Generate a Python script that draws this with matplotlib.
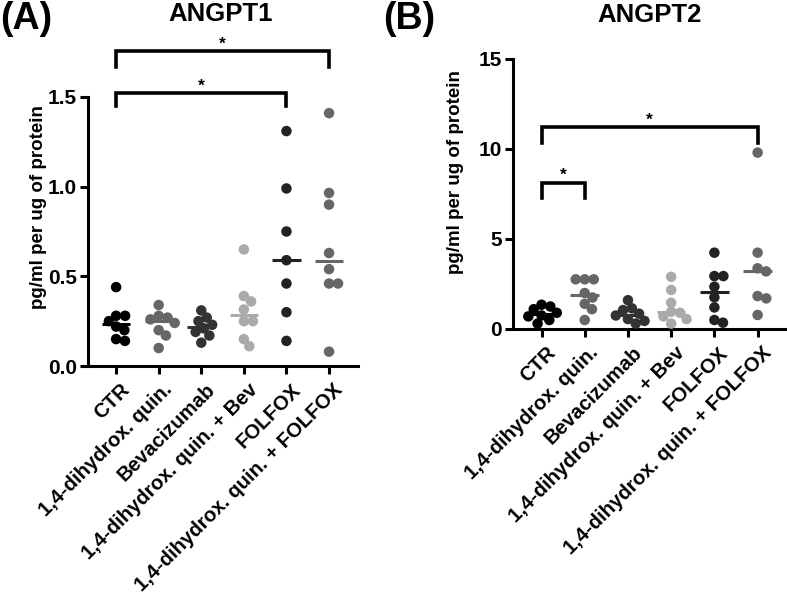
import numpy as np
import matplotlib
matplotlib.use("Agg")
import matplotlib.pyplot as plt
import matplotlib.transforms as mtrans

plt.rcParams['font.family'] = ['Liberation Sans', 'DejaVu Sans']
plt.rcParams['font.weight'] = 'bold'

groups = ['CTR', '1,4-dihydrox. quin.', 'Bevacizumab', '1,4-dihydrox. quin. + Bev',
          'FOLFOX', '1,4-dihydrox. quin. + FOLFOX']
colors = ['#000000', '#666666', '#333333', '#aaaaaa', '#222222', '#666666']

# ANGPT1 values (pg/ml per ug of protein)
angpt1_ctr = [0.44, 0.28, 0.28, 0.25, 0.22, 0.20, 0.15, 0.14]
angpt1_dhq = [0.34, 0.28, 0.27, 0.26, 0.24, 0.20, 0.17, 0.10]
angpt1_bev = [0.31, 0.27, 0.25, 0.23, 0.21, 0.19, 0.17, 0.13]
angpt1_dhq_bev = [0.65, 0.39, 0.36, 0.315, 0.25, 0.25, 0.15, 0.11]
angpt1_folfox = [1.31, 0.99, 0.75, 0.59, 0.46, 0.30, 0.14]
angpt1_dhq_folfox = [1.41, 0.965, 0.90, 0.63, 0.54, 0.46, 0.46, 0.08]

# ANGPT2 values
angpt2_ctr = [1.35, 1.25, 1.1, 0.9, 0.75, 0.7, 0.5, 0.3]
angpt2_dhq = [2.76, 2.76, 2.76, 2.0, 1.75, 1.4, 1.1, 0.5]
angpt2_bev = [1.6, 1.15, 1.05, 0.85, 0.75, 0.55, 0.45, 0.3]
angpt2_dhq_bev = [2.9, 2.17, 1.46, 0.96, 0.9, 0.7, 0.55, 0.3]
angpt2_folfox = [4.24, 2.94, 2.94, 2.35, 1.76, 1.2, 0.5, 0.35]
angpt2_dhq_folfox = [9.8, 4.24, 3.37, 3.2, 1.83, 1.7, 0.78]

angpt1 = [angpt1_ctr, angpt1_dhq, angpt1_bev, angpt1_dhq_bev, angpt1_folfox, angpt1_dhq_folfox]
angpt2 = [angpt2_ctr, angpt2_dhq, angpt2_bev, angpt2_dhq_bev, angpt2_folfox, angpt2_dhq_folfox]

# significance brackets: (group i, group j, bar height, leg bottom)
sig1 = [(0, 4, 1.52, 1.45), (0, 5, 1.755, 1.67)]
sig2 = [(0, 1, 8.1, 7.26), (0, 5, 11.2, 10.35)]

DIAM = 10.5   # marker diameter in px
SEP = 9.0     # min distance between point centres (GraphPad lets them overlap a bit)


def swarm_offsets(ax, x0, vals):
    # simple beeswarm in pixel space
    pts = ax.transData.transform([(x0, v) for v in vals])
    ys = pts[:, 1]
    px_per_unit = ax.transData.transform([(1, 0)])[0][0] - ax.transData.transform([(0, 0)])[0][0]
    placed = []
    offs = np.zeros(len(vals))
    for i in np.argsort(-ys):
        cands = [0.0]
        for xj, yj in placed:
            dy = ys[i] - yj
            if abs(dy) < SEP:
                dx = np.sqrt(SEP ** 2 - dy ** 2)
                cands += [xj + dx, xj - dx]
        cands.sort(key=abs)
        for c in cands:
            ok = all((c - xj) ** 2 + (ys[i] - yj) ** 2 >= SEP ** 2 - 1e-6 for xj, yj in placed)
            if ok:
                break
        placed.append((c, ys[i]))
        offs[i] = c
    return x0 + offs / px_per_unit


def draw_panel(ax, data, ylim, yticks, yticklabels, sig):
    ax.set_xlim(-0.66, 5.68)
    ax.set_ylim(*ylim)
    for i, vals in enumerate(data):
        xs = swarm_offsets(ax, i, vals)
        ax.scatter(xs, vals, s=(DIAM * 0.72) ** 2, color=colors[i], edgecolors='none',
                   zorder=3, clip_on=False)
        med = np.median(vals)
        ax.plot([i - 0.33, i + 0.33], [med, med], color=colors[i], lw=2.2, zorder=4,
                solid_capstyle='butt')
    for a, b, top, bot in sig:
        ax.plot([a, a, b, b], [bot, top, top, bot], color='black', lw=2.6,
                clip_on=False, solid_joinstyle='miter')
        ax.text((a + b) / 2, top, '*', ha='center', va='bottom', fontsize=12.5,
                fontweight='bold')
    ax.spines['top'].set_visible(False)
    ax.spines['right'].set_visible(False)
    ax.spines['left'].set_linewidth(2.2)
    ax.spines['bottom'].set_linewidth(2.2)
    ax.set_yticks(yticks)
    ax.set_yticklabels(yticklabels, fontsize=15, fontweight='bold')
    ax.set_xticks(range(len(groups)))
    ax.set_xticklabels(groups, rotation=45, ha='right', rotation_mode='anchor',
                       fontsize=14.6, fontweight='bold')
    ax.tick_params(axis='both', width=2.2, length=6, pad=2)
    ax.tick_params(axis='x', pad=4)
    shift = mtrans.ScaledTranslation(3 / 72, 0, ax.figure.dpi_scale_trans)
    for lab in ax.get_xticklabels():
        lab.set_transform(lab.get_transform() + shift)
    ax.set_ylabel('pg/ml per ug of protein', fontsize=13.5, fontweight='bold')


fig = plt.figure(figsize=(7.87, 5.96), dpi=100)
axA = fig.add_axes([88 / 787, 1 - 366 / 596, 270 / 787, 269 / 596])
axB = fig.add_axes([513 / 787, 1 - 329 / 596, 274 / 787, 270 / 596])

draw_panel(axA, angpt1, (0, 1.5), [0, 0.5, 1.0, 1.5], ['0.0', '0.5', '1.0', '1.5'], sig1)
draw_panel(axB, angpt2, (0, 15), [0, 5, 10, 15], ['0', '5', '10', '15'], sig2)
axA.yaxis.set_label_coords(-0.15, 0.59)
axB.yaxis.set_label_coords(-0.18, 0.58)

fig.text(221 / 787, 1 - 14 / 596, 'ANGPT1', ha='center', va='center', fontsize=18.5, fontweight='bold')
fig.text(650 / 787, 1 - 15 / 596, 'ANGPT2', ha='center', va='center', fontsize=18.5, fontweight='bold')
fig.text(0, 1 - 19 / 596, '(A)', ha='left', va='center', fontsize=27, fontweight='bold')
fig.text(383 / 787, 1 - 19 / 596, '(B)', ha='left', va='center', fontsize=27, fontweight='bold')

fig.savefig('out.png', dpi=100)
